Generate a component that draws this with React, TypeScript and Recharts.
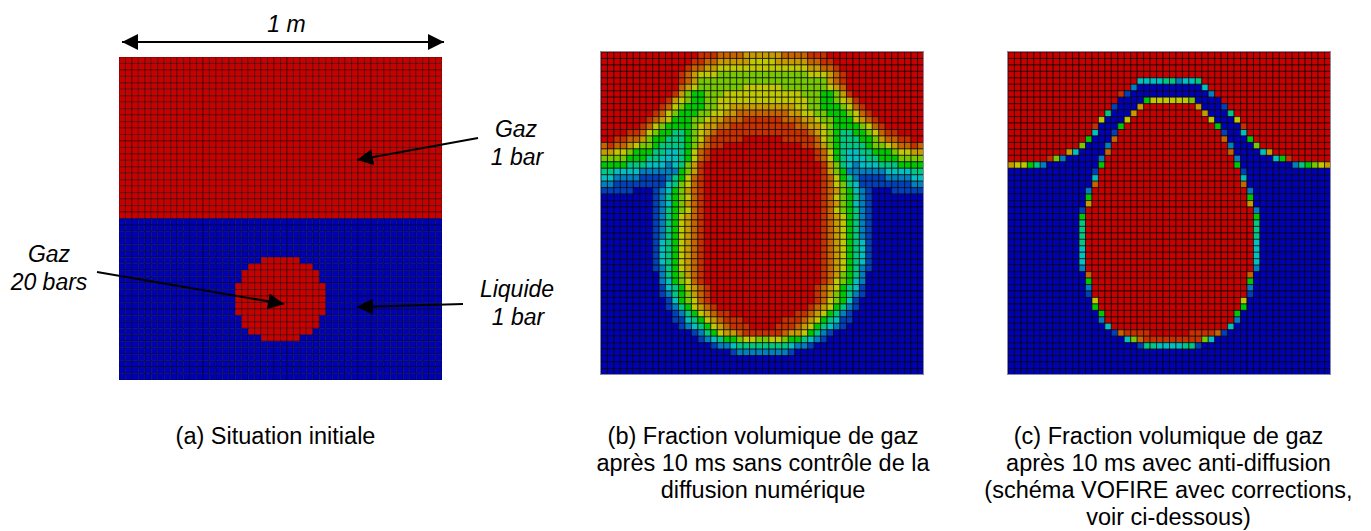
import { Scatter, ScatterChart, XAxis, YAxis } from 'recharts';

// level of each cell, one string per row, 0 = liquid ... b = gas
const palette = [
  '#0000b4', '#0040bc', '#0080c0', '#00c0c0', '#00c880', '#00c800',
  '#78c800', '#c0c800', '#c89c00', '#c86400', '#c83000', '#c80000',
];

const R = 'bbbbbbbbbb';
const Z = '0000000000';

const rowsA = [
  ...Array(25).fill(`${R}${R}${R}${R}${R}`),
  ...Array(6).fill(`${Z}${Z}${Z}${Z}${Z}`),
  `${Z}${Z} 00bbbbbb00 ${Z}${Z}`,
  `${Z}${Z} bbbbbbbbbb ${Z}${Z}`,
  `${Z} 000000000b bbbbbbbbbb b000000000 ${Z}`,
  `${Z} 000000000b bbbbbbbbbb b000000000 ${Z}`,
  `${Z} 00000000bb bbbbbbbbbb bb00000000 ${Z}`,
  `${Z} 00000000bb bbbbbbbbbb bb00000000 ${Z}`,
  `${Z} 00000000bb bbbbbbbbbb bb00000000 ${Z}`,
  `${Z} 00000000bb bbbbbbbbbb bb00000000 ${Z}`,
  `${Z} 00000000bb bbbbbbbbbb bb00000000 ${Z}`,
  `${Z} 000000000b bbbbbbbbbb b000000000 ${Z}`,
  `${Z} 000000000b bbbbbbbbbb b000000000 ${Z}`,
  `${Z}${Z} bbbbbbbbbb ${Z}${Z}`,
  `${Z}${Z} 00bbbbbb00 ${Z}${Z}`,
  ...Array(6).fill(`${Z}${Z}${Z}${Z}${Z}`),
];

const rowsB = [
  `${R} bbbbbaaa99 9988888899 99aaabbbbb ${R}`,
  `${R} bbbbaa9988 8887777888 8899aabbbb ${R}`,
  `${R} bbba998877 7777777777 778899abbb ${R}`,
  `${R} bba9877766 6666666666 6677789abb ${R}`,
  `${R} bba9866666 6666666666 6666689abb ${R}`,
  `${R} bb98766666 6677777766 66666789bb ${R}`,
  `${R} ba86556667 7777777777 76665568ab ${R}`,
  `${R} a876556677 7777777777 776655678a ${R}`,
  `bbbbbbbbba 9765556677 8888888888 7766555679 abbbbbbbbb`,
  `bbbbbbbba9 7655566778 8999999998 8776655567 9abbbbbbbb`,
  `bbbbbbba98 7555667889 99aaaaaa99 9887665557 89abbbbbbb`,
  `bbbbbba976 5555678899 aaaaaaaaaa 9988765555 679abbbbbb`,
  `bbbbaa9765 54456789aa aaaaaaaaaa aa98765445 5679aabbbb`,
  `bbaa998655 4445679aaa aabbbbbbaa aaa9765444 556899aabb`,
  `9a99876654 4445689aab ${R} baa9865444 45667899a9`,
  `8877655544 334579abbb ${R} bbba975433 4455567788`,
  `6666555443 334579abbb ${R} bbba975433 3445556666`,
  `5555444333 23468abbbb ${R} bbbba86432 3334445555`,
  `4433332222 22568abbbb ${R} bbbba86522 2222333344`,
  `3322221111 24579abbbb ${R} bbbba97542 1111222233`,
  `2211111111 34679abbbb ${R} bbbba97643 1111111122`,
  `1111100012 35689abbbb ${R} bbbba98653 2100011111`,
  `0000000012 45679abbbb ${R} bbbba97654 2100000000`,
  `0000000012 35689abbbb ${R} bbbba98653 2100000000`,
  `0000000012 45679abbbb ${R} bbbba97654 2100000000`,
  `0000000012 45789abbbb ${R} bbbba98754 2100000000`,
  `0000000012 45789abbbb ${R} bbbba98754 2100000000`,
  `0000000012 45789abbbb ${R} bbbba98754 2100000000`,
  `0000000012 45789abbbb ${R} bbbba98754 2100000000`,
  `0000000013 45789abbbb ${R} bbbba98754 3100000000`,
  `0000000013 45789abbbb ${R} bbbba98754 3100000000`,
  `0000000013 45789abbbb ${R} bbbba98754 3100000000`,
  `0000000013 45789abbbb ${R} bbbba98754 3100000000`,
  `0000000012 45789abbbb ${R} bbbba98754 2100000000`,
  `0000000002 45689abbbb ${R} bbbba98654 2000000000`,
  `0000000002 35679abbbb ${R} bbbba97653 2000000000`,
  `0000000001 345789abbb ${R} bbba987543 1000000000`,
  `0000000001 245689abbb ${R} bbba986542 1000000000`,
  `${Z} 135679abbb ${R} bbba976531 ${Z}`,
  `${Z} 1245789abb ${R} bba9875421 ${Z}`,
  `${Z} 01245789aa ${R} aa98754210 ${Z}`,
  `${Z} 011345789a aabbbbbbaa a987543110 ${Z}`,
  `${Z} 0012345789 aaabbbbaaa 9875432100 ${Z}`,
  `${Z} 0000124578 89aaaaaa98 8754210000 ${Z}`,
  `${Z} 0000012345 5677667765 5432100000 ${Z}`,
  `${Z} 0000000122 3444444443 2210000000 ${Z}`,
  `${Z} ${Z} 1222222221 ${Z} ${Z}`,
  `${Z} ${Z} ${Z} ${Z} ${Z}`,
  `${Z} ${Z} ${Z} ${Z} ${Z}`,
  `${Z} ${Z} ${Z} ${Z} ${Z}`,
];

const rowsC = [
  `${R}${R}${R}${R}${R}`,
  `${R}${R}${R}${R}${R}`,
  `${R}${R}${R}${R}${R}`,
  `${R}${R}${R}${R}${R}`,
  `${R} ${R} 3333442334 ${R} ${R}`,
  `${R} bbbbbbbbb2 ${Z} 3bbbbbbbbb ${R}`,
  `${R} bbbbbbba10 ${Z} 02bbbbbbbb ${R}`,
  `${R} bbbbbbb000 0577777760 000bbbbbbb ${R}`,
  `${R} bbbbbb1000 8bbbbbbbb8 0001bbbbbb ${R}`,
  `${R} bbbbb40008 ${R} 80004bbbbb ${R}`,
  `${R} bbbb70007b ${R} b70007bbbb ${R}`,
  `${R} bbba0005bb ${R} bb5000abbb ${R}`,
  `${R} bbb3001bbb ${R} bbb1003bbb ${R}`,
  `${R} bb50009bbb ${R} bbb90005bb ${R}`,
  `${R} b60002bbbb ${R} bbbb20006b ${R}`,
  `bbbbbbbbb8 300009bbbb ${R} bbbb900003 8bbbbbbbbb`,
  `bbbbbba620 00002bbbbb ${R} bbbbb20000 035abbbbbb`,
  `8775420000 00005bbbbb ${R} bbbbb50000 0000245678`,
  `${Z} 0001bbbbbb ${R} bbbbbb1000 ${Z}`,
  `${Z} 0003bbbbbb ${R} bbbbbb3000 ${Z}`,
  `${Z} 0009bbbbbb ${R} bbbbbb9000 ${Z}`,
  `${Z} 002bbbbbbb ${R} bbbbbbb200 ${Z}`,
  `${Z} 005bbbbbbb ${R} bbbbbbb500 ${Z}`,
  `${Z} 008bbbbbbb ${R} bbbbbbb800 ${Z}`,
  `${Z} 01bbbbbbbb ${R} bbbbbbbb20 ${Z}`,
  `${Z} 05bbbbbbbb ${R} bbbbbbbb50 ${Z}`,
  `${Z} 04bbbbbbbb ${R} bbbbbbbb40 ${Z}`,
  `${Z} 04bbbbbbbb ${R} bbbbbbbb40 ${Z}`,
  `${Z} 04bbbbbbbb ${R} bbbbbbbb40 ${Z}`,
  `${Z} 04bbbbbbbb ${R} bbbbbbbb30 ${Z}`,
  `${Z} 03bbbbbbbb ${R} bbbbbbbb30 ${Z}`,
  `${Z} 03bbbbbbbb ${R} bbbbbbbb30 ${Z}`,
  `${Z} 03bbbbbbbb ${R} bbbbbbbb30 ${Z}`,
  `${Z} 02bbbbbbbb ${R} bbbbbbbb20 ${Z}`,
  `${Z} 009bbbbbbb ${R} bbbbbbb900 ${Z}`,
  `${Z} 005bbbbbbb ${R} bbbbbbb500 ${Z}`,
  `${Z} 002bbbbbbb ${R} bbbbbbb200 ${Z}`,
  `${Z} 001bbbbbbb ${R} bbbbbbb100 ${Z}`,
  `${Z} 0007bbbbbb ${R} bbbbbb7000 ${Z}`,
  `${Z} 0005bbbbbb ${R} bbbbbb5000 ${Z}`,
  `${Z} 00005bbbbb ${R} bbbbb50000 ${Z}`,
  `${Z} 00002bbbbb ${R} bbbbb20000 ${Z}`,
  `${Z} 000003bbbb ${R} bbbb300000 ${Z}`,
  `${Z} 00000019aa aabbbbbbaa aa91000000 ${Z}`,
  `${Z} 0000000036 9aaaaaaaaa 6300000000 ${Z}`,
  `${Z} ${Z} 1443333441 ${Z} ${Z}`,
  `${Z} ${Z} ${Z} ${Z} ${Z}`,
  `${Z} ${Z} ${Z} ${Z} ${Z}`,
  `${Z} ${Z} ${Z} ${Z} ${Z}`,
  `${Z} ${Z} ${Z} ${Z} ${Z}`,
];

const captionA = ['(a) Situation initiale'];
const captionB = ['(b) Fraction volumique de gaz', 'après 10 ms sans contrôle de la', 'diffusion numérique'];
const captionC = [
  '(c) Fraction volumique de gaz',
  'après 10 ms avec anti-diffusion',
  '(schéma VOFIRE avec corrections,',
  'voir ci-dessous)',
];

const SIZE = 323;
const CELL = SIZE / 50;

function toCells(rows: string[]) {
  return rows.flatMap((row, r) =>
    row
      .replace(/ /g, '')
      .split('')
      .map((ch, c) => ({ col: c + 0.5, row: r + 0.5, level: parseInt(ch, 16) })),
  );
}

function Panel({ rows, left, top, grid }: { rows: string[]; left: number; top: number; grid: number }) {
  const cellShape = (props: any) => (
    <rect
      x={props.cx - CELL / 2}
      y={props.cy - CELL / 2}
      width={CELL}
      height={CELL}
      fill={palette[props.payload.level]}
      stroke="#000"
      strokeOpacity={grid}
      strokeWidth={1}
    />
  );
  return (
    <div style={{ position: 'absolute', left, top }}>
      <ScatterChart width={SIZE} height={SIZE} margin={{ top: 0, right: 0, bottom: 0, left: 0 }}>
        <XAxis type="number" dataKey="col" domain={[0, 50]} hide />
        <YAxis type="number" dataKey="row" domain={[0, 50]} reversed hide />
        <Scatter data={toCells(rows)} shape={cellShape} isAnimationActive={false} />
      </ScatterChart>
    </div>
  );
}

function Caption({ lines, x }: { lines: string[]; x: number }) {
  return (
    <div
      style={{
        position: 'absolute',
        left: x - 200,
        top: 423,
        width: 400,
        textAlign: 'center',
        fontFamily: 'Liberation Sans',
        fontSize: 23.5,
        lineHeight: '27px',
        color: '#000',
      }}
    >
      {lines.map((l) => (
        <div key={l}>{l}</div>
      ))}
    </div>
  );
}

function Notes() {
  const text = { fontFamily: 'Liberation Sans', fontSize: 23, fontStyle: 'italic', textAnchor: 'middle' as const };
  return (
    <svg width={1371} height={531} style={{ position: 'absolute', left: 0, top: 0 }}>
      <defs>
        <marker id="head" markerUnits="userSpaceOnUse" markerWidth={16} markerHeight={16} refX={16} refY={8} orient="auto-start-reverse">
          <path d="M0 0 L16 8 L0 16 Z" fill="#000" />
        </marker>
      </defs>
      <rect x={600.5} y={51.5} width={323} height={323} fill="none" stroke="#8a8a9a" />
      <rect x={1007.5} y={51.5} width={323} height={323} fill="none" stroke="#8a8a9a" />
      <g stroke="#000" strokeWidth={2}>
        <line x1={122} y1={42} x2={444} y2={42} markerStart="url(#head)" markerEnd="url(#head)" />
        <line x1={478} y1={138} x2={357} y2={160} markerEnd="url(#head)" />
        <line x1={97} y1={272} x2={284} y2={304} markerEnd="url(#head)" />
        <line x1={463} y1={304} x2={357} y2={307} markerEnd="url(#head)" />
      </g>
      <text x={286.5} y={32} {...text}>1 m</text>
      <text x={516} y={137} {...text}>Gaz</text>
      <text x={517} y={165} {...text}>1 bar</text>
      <text x={49} y={262} {...text}>Gaz</text>
      <text x={49} y={290} {...text}>20 bars</text>
      <text x={517} y={297} {...text}>Liquide</text>
      <text x={518} y={325} {...text}>1 bar</text>
    </svg>
  );
}

export default function App() {
  return (
    <div style={{ position: 'absolute', left: 0, top: 0, width: 1371, height: 531, overflow: 'hidden' }}>
      <Panel rows={rowsA} left={118.5} top={56.5} grid={0.42} />
      <Panel rows={rowsB} left={600.5} top={51.5} grid={0.65} />
      <Panel rows={rowsC} left={1007.5} top={51.5} grid={0.65} />
      <Notes />
      <Caption lines={captionA} x={275.5} />
      <Caption lines={captionB} x={763} />
      <Caption lines={captionC} x={1168.5} />
    </div>
  );
}
